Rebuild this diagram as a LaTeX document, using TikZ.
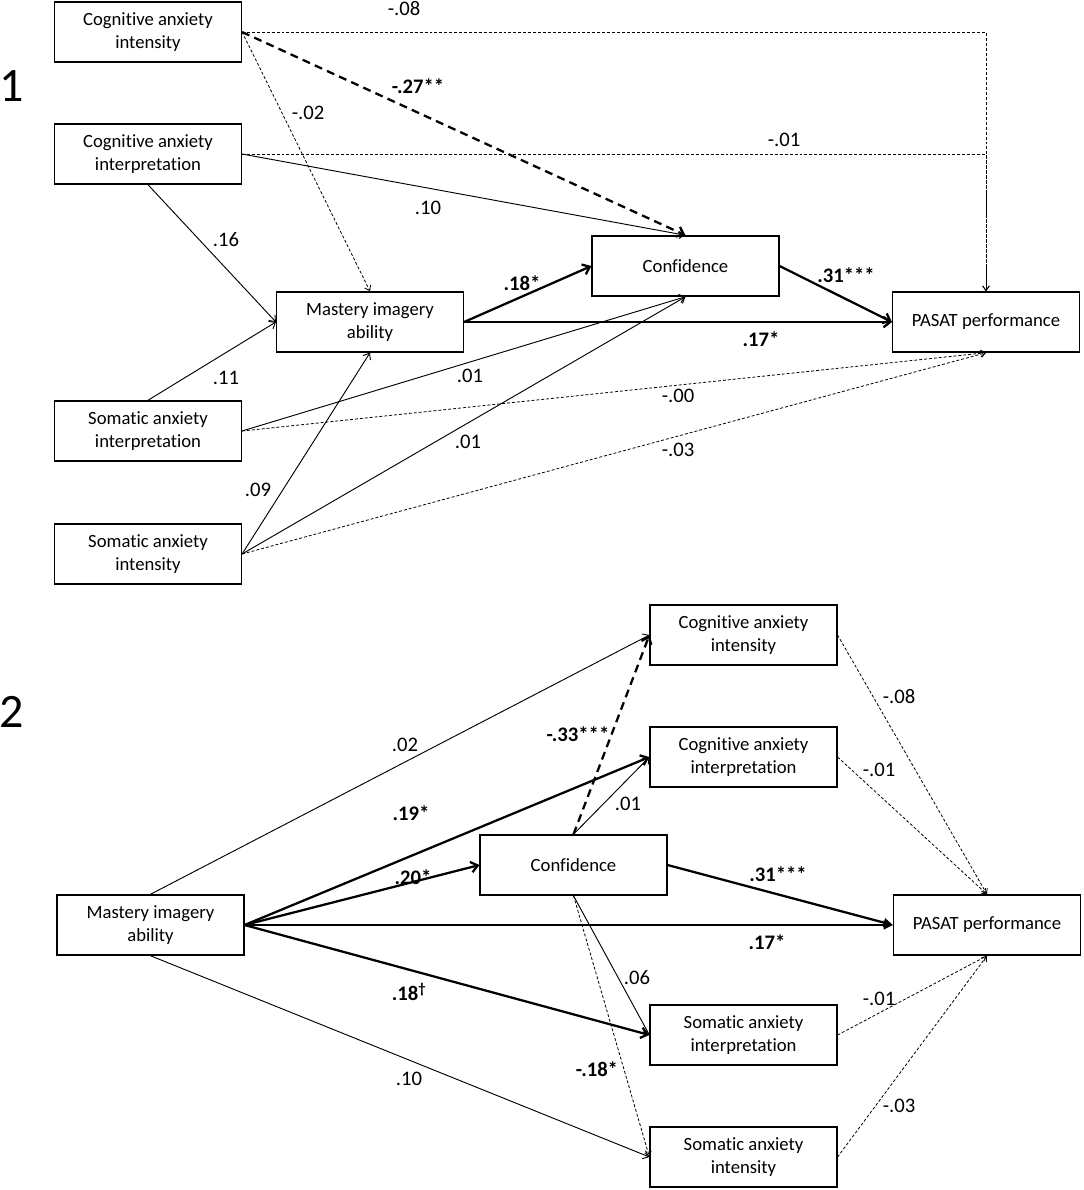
\documentclass[tikz,border=0pt]{standalone}
\usepackage{fontspec}
\setmainfont{Carlito}[Ligatures=NoCommon]
\usetikzlibrary{arrows.meta}
\begin{document}
\begin{tikzpicture}[x=0.75pt,y=-0.75pt,
 box/.style={draw,line width=1.1pt,minimum width=140pt,minimum height=45pt,inner sep=0pt,align=center,font=\fontsize{14}{16.8}\selectfont},
 lab/.style={font=\fontsize{15.5}{17}\selectfont,inner sep=0pt},
 blab/.style={font=\fontsize{15.5}{17}\selectfont\bfseries,inner sep=0pt},
 big/.style={font=\fontsize{36}{38}\selectfont,inner sep=0pt},
 thinline/.style={line width=0.7pt,-{Straight Barb[length=4pt,width=6.5pt]}},
 dotline/.style={line width=0.6pt,dash pattern=on 2.2pt off 1.5pt,-{Straight Barb[length=3.5pt,width=5pt]}},
 thickline/.style={line width=1.7pt,-{Straight Barb[length=5pt,width=8pt]}},
 thickfill/.style={line width=1.7pt,-{Triangle[length=7pt,width=6.5pt]}},
 thickdash/.style={line width=1.7pt,dash pattern=on 6pt off 4pt,-{Straight Barb[length=5pt,width=8pt]}},
]
\useasboundingbox (0,0) rectangle (1084,1190);

% ---------- Diagram 1 ----------
\node[big] (n1) at (12,86) {1};
\node[box] (cai1) at (148,32) {Cognitive anxiety\\intensity};
\node[box] (cain1) at (148,154) {Cognitive anxiety\\interpretation};
\node[box] (mas1) at (370,322) {Mastery imagery\\ability};
\node[box] (con1) at (685.5,266) {Confidence};
\node[box] (pas1) at (986,322) {PASAT performance};
\node[box] (sain1) at (148,431) {Somatic anxiety\\interpretation};
\node[box] (sai1) at (148,554) {Somatic anxiety\\intensity};

\draw[dotline] (cai1.east) -| (pas1.north);
\draw[dotline] (cain1.east) -| (pas1.north);
\draw[thickdash] (cai1.east) -- (con1.north);
\draw[dotline] (cai1.east) -- (mas1.north);
\draw[thinline] (cain1.east) -- (con1.north);
\draw[thinline] (cain1.south) -- (mas1.west);
\draw[thinline] (sain1.north) -- (mas1.west);
\draw[thinline] (sain1.east) -- (con1.south);
\draw[dotline] (sain1.east) -- (pas1.south);
\draw[thinline] (sai1.east) -- (mas1.south);
\draw[thinline] (sai1.east) -- (con1.south);
\draw[dotline] (sai1.east) -- (pas1.south);
\draw[thickline] (mas1.east) -- (con1.west);
\draw[thickline] (mas1.east) -- (pas1.west);
\draw[thickline] (con1.east) -- (pas1.west);

\node[lab] (a1) at (404,9) {-.08};
\node[blab] (a2) at (418,86) {-.27**};
\node[lab] (a3) at (308,113) {-.02};
\node[lab] (a4) at (784,140) {-.01};
\node[lab] (a5) at (428,208) {.10};
\node[lab] (a6) at (226,240) {.16};
\node[blab] (a7) at (522,283) {.18*};
\node[blab] (a8) at (846,275) {.31***};
\node[blab] (a9) at (761,339) {.17*};
\node[lab] (a10) at (226,378) {.11};
\node[lab] (a11) at (470,376) {.01};
\node[lab] (a12) at (678,396) {-.00};
\node[lab] (a13) at (468,442) {.01};
\node[lab] (a14) at (678,450) {-.03};
\node[lab] (a15) at (258,490) {.09};

% ---------- Diagram 2 ----------
\node[big] (n2) at (12,712) {2};
\node[box] (cai2) at (743.5,635) {Cognitive anxiety\\intensity};
\node[box] (cain2) at (743.5,757) {Cognitive anxiety\\interpretation};
\node[box] (con2) at (573.5,865) {Confidence};
\node[box] (mas2) at (150.5,925) {Mastery imagery\\ability};
\node[box] (pas2) at (987,925) {PASAT performance};
\node[box] (sain2) at (743.5,1035) {Somatic anxiety\\interpretation};
\node[box] (sai2) at (743.5,1157) {Somatic anxiety\\intensity};

\draw[thinline] (mas2.north) -- (cai2.west);
\draw[thickline] (mas2.east) -- (cain2.west);
\draw[thickline] (mas2.east) -- (con2.west);
\draw[thickfill] (mas2.east) -- (pas2.west);
\draw[thickline] (mas2.east) -- (sain2.west);
\draw[thinline] (mas2.south) -- (sai2.west);
\draw[thickdash] (con2.north) -- (cai2.west);
\draw[thinline] (con2.north) -- (cain2.west);
\draw[thickfill] (con2.east) -- (pas2.west);
\draw[thinline] (con2.south) -- (sain2.west);
\draw[dotline] (con2.south) -- (sai2.west);
\draw[dotline] (cai2.east) -- (pas2.north);
\draw[dotline] (cain2.east) -- (pas2.north);
\draw[dotline] (sain2.east) -- (pas2.south);
\draw[dotline] (sai2.east) -- (pas2.south);

\node[lab] (b1) at (405,745) {.02};
\node[blab] (b2) at (578,734) {-.33***};
\node[lab] (b3) at (628,804) {.01};
\node[blab] (b4) at (411,813) {.19*};
\node[blab] (b5) at (413,877) {.20*};
\node[blab] (b6) at (778,874) {.31***};
\node[blab] (b7) at (767,942) {.17*};
\node[lab] (b8) at (637,978) {.06};
\node[blab] (b9) at (409,992) {.18\textsuperscript{†}};
\node[blab] (b10) at (597,1069) {-.18*};
\node[lab] (b11) at (409,1079) {.10};
\node[lab] (b12) at (899,697) {-.08};
\node[lab] (b13) at (879,770) {-.01};
\node[lab] (b14) at (879,999) {-.01};
\node[lab] (b15) at (899,1106) {-.03};
\end{tikzpicture}
\end{document}
